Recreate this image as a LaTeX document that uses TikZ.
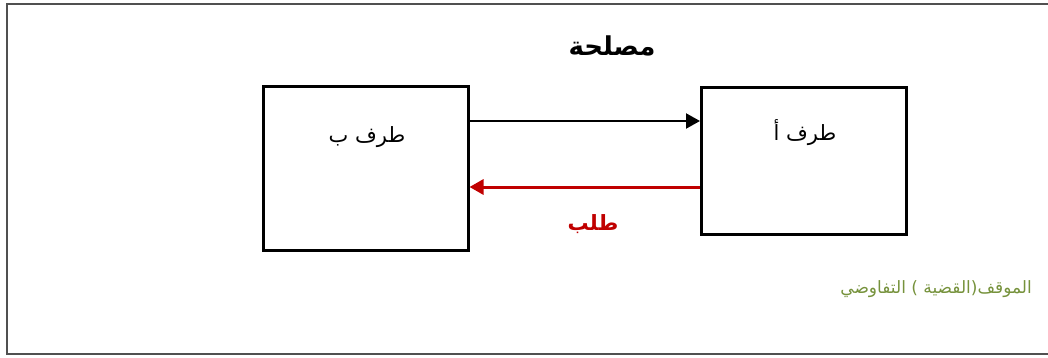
\documentclass[tikz,border=0pt]{standalone}
\usepackage{fontspec}
\newfontfamily\arabicfont[Script=Arabic]{DejaVu Sans}
\TeXXeTstate=1
\usetikzlibrary{arrows.meta}
\definecolor{framegray}{RGB}{80,80,80}
\definecolor{reqred}{RGB}{192,0,0}
\definecolor{olive}{RGB}{118,146,60}
\tikzset{
  party/.style={draw, line width=3pt, minimum width=205pt, minimum height=#1, inner sep=0pt},
  flow/.style={line width=2.2pt, -{Triangle[length=14pt,width=15pt]}},
  ar/.style={inner sep=0pt}
}
\begin{document}
\begin{tikzpicture}[x=1pt,y=-1pt]
\useasboundingbox (0,0) rectangle (1048,358);
% outer frame (open on the right)
\draw[framegray, line width=2.2pt] (1048,4) -- (7,4) -- (7,354) -- (1048,354);
% the two parties
\node[party=163pt] (b) at (365.5,168.5) {};
\node[party=146pt] (a) at (804,161) {};
\node[ar, font=\arabicfont\fontsize{21}{25}\selectfont] (lb) at (367,137) {\beginR طرف ب\endR};
\node[ar, font=\arabicfont\fontsize{21}{25}\selectfont] (la) at (805,133) {\beginR طرف أ\endR};
% title
\node[ar, font=\arabicfont\bfseries\fontsize{26}{30}\selectfont] (title) at (612,46) {\beginR مصلحة\endR};
% connectors
\coordinate (bt) at (b.east |- 0,121);
\coordinate (at) at (a.west |- 0,121);
\coordinate (ab) at (a.west |- 0,187);
\coordinate (bb) at (b.east |- 0,187);
\draw[flow] (bt) -- (at);
\draw[flow, reqred, line width=3pt] (ab) -- (bb);
\node[ar, text=reqred, font=\arabicfont\bfseries\fontsize{21}{25}\selectfont] (req) at (593,224) {\beginR طلب\endR};
% position label
\node[ar, text=olive, font=\arabicfont\fontsize{17}{20}\selectfont, anchor=east] (pos) at (1032,289) {\beginR الموقف(القضية ) التفاوضي\endR};
\end{tikzpicture}
\end{document}
